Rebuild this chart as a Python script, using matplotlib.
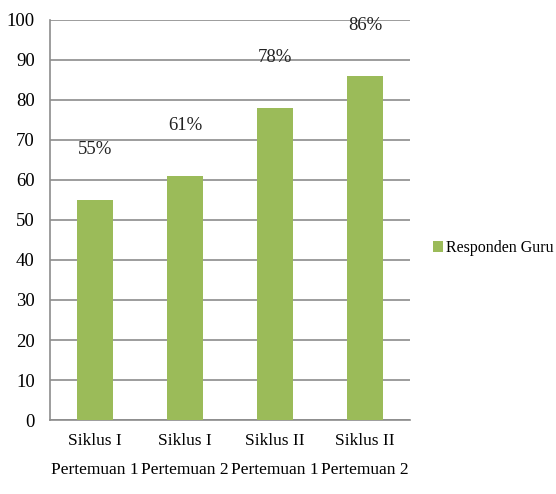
import matplotlib.pyplot as plt
import numpy as np

# data
kategori = ["Siklus I\nPertemuan 1", "Siklus I\nPertemuan 2",
            "Siklus II\nPertemuan 1", "Siklus II\nPertemuan 2"]
nilai = [55, 61, 78, 86]
label_nilai = ["55%", "61%", "78%", "86%"]
y_ticks = [0, 10, 20, 30, 40, 50, 60, 70, 80, 90, 100]

plt.rcParams['font.family'] = ['Liberation Serif', 'DejaVu Serif']

fig = plt.figure(figsize=(5.56, 4.94), dpi=100)
ax = fig.add_axes([50 / 556, 1 - 420 / 494, 360 / 556, 400 / 494])

x = np.arange(len(kategori))
bars = ax.bar(x, nilai, width=0.4, color='#9BBB59', label='Responden Guru', zorder=3)

for xi, v, t in zip(x, nilai, label_nilai):
    ax.annotate(t, (xi, v), xytext=(0, 36), textcoords='offset points',
                ha='center', va='center', fontsize=13.5, color='#222222')

ax.set_xlim(-0.5, 3.5)
ax.set_ylim(0, 100)
ax.set_yticks(y_ticks)
ax.set_xticks(x)
ax.set_xticklabels(kategori, fontsize=12.5, linespacing=2.1)
ax.tick_params(axis='y', labelsize=13.5, length=0, pad=11)
ax.tick_params(axis='x', length=0, pad=9)
ax.grid(axis='y', color='#8c8c8c', linewidth=1.2, zorder=0)
for s in ['top', 'right']:
    ax.spines[s].set_visible(False)
ax.spines['left'].set_color('#8c8c8c')
ax.spines['bottom'].set_color('#8c8c8c')
ax.spines['left'].set_linewidth(1.2)
ax.spines['bottom'].set_linewidth(1.2)

ax.legend(loc='center left', bbox_to_anchor=(1.065, 0.43), frameon=False,
          fontsize=11.5, handlelength=0.6, handleheight=0.7, handletextpad=0.2,
          borderpad=0, borderaxespad=0)

fig.savefig('out.png', dpi=100)
